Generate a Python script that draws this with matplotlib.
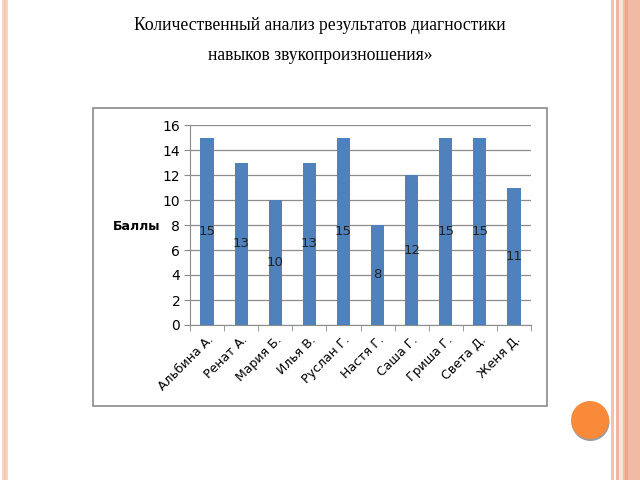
import matplotlib.pyplot as plt
from matplotlib.patches import Rectangle, Circle

# data
names = ['Альбина А.', 'Ренат А.', 'Мария Б.', 'Илья В.', 'Руслан Г.',
         'Настя Г.', 'Саша Г.', 'Гриша Г.', 'Света Д.', 'Женя Д.']
scores = [15, 13, 10, 13, 15, 8, 12, 15, 15, 11]
yticks = [0, 2, 4, 6, 8, 10, 12, 14, 16]

title_1 = 'Количественный анализ результатов диагностики'
title_2 = 'навыков звукопроизношения»'

fig = plt.figure(figsize=(6.4, 4.8), dpi=100)
fig.patch.set_facecolor('white')
W, H = 640.0, 480.0

# slide decoration: stripes at the sides
def stripe(x0, x1, color):
    fig.patches.append(Rectangle((x0 / W, 0), (x1 - x0) / W, 1, transform=fig.transFigure,
                                 facecolor=color, edgecolor='none', zorder=0))

stripe(2, 8, '#fbd3c3')
stripe(4, 6, '#f9c4b0')
stripe(611, 614, '#f6c0aa')
stripe(616, 619, '#f4b59e')
stripe(619, 623, '#fde4da')
stripe(623, 640, '#f2b9a5')
stripe(625, 628, '#f0a78c')

# orange circle with a grey shadow (pixel units via dpi_scale_trans)
shadow = Circle((590.5 / 100, (H - 422) / 100), 19 / 100, transform=fig.dpi_scale_trans,
                facecolor='#9c9c9c', edgecolor='none', zorder=1)
circ = Circle((590 / 100, (H - 420) / 100), 19 / 100, transform=fig.dpi_scale_trans,
              facecolor='#f98a3a', edgecolor='none', zorder=2)
fig.patches.extend([shadow, circ])

# chart frame
fig.patches.append(Rectangle((93 / W, 1 - 406 / H), (547 - 93) / W, (406 - 108) / H,
                             transform=fig.transFigure, facecolor='white',
                             edgecolor='#8a8a8a', linewidth=1.2, zorder=1))

# title
fig.text(0.5, 1 - 25 / H, title_1, ha='center', va='center',
         fontsize=12.7, family='Liberation Serif', color='#000000')
fig.text(0.5, 1 - 56 / H, title_2, ha='center', va='center',
         fontsize=12.7, family='Liberation Serif', color='#000000')

ax = fig.add_axes([190 / W, 1 - 325 / H, (531 - 190) / W, (325 - 125) / H])
ax.set_zorder(3)
ax.patch.set_alpha(0)

x = list(range(len(names)))
ax.bar(x, scores, width=0.39, color='#4f81bd', zorder=3)
for xi, v in zip(x, scores):
    ax.text(xi, v / 2, str(v), ha='center', va='center', fontsize=9.5, color='#222222', zorder=4)

ax.set_xlim(-0.5, len(names) - 0.5)
ax.set_ylim(0, 16)
ax.set_yticks(yticks)
ax.yaxis.grid(True, color='#8c8c8c', linewidth=0.9)
ax.set_axisbelow(True)

ax.set_xticks(x)
ax.set_xticklabels(names, rotation=45, ha='right', rotation_mode='anchor', fontsize=9)
ax.tick_params(axis='x', length=0, pad=6)
ax.set_xticks([i - 0.5 for i in range(len(names) + 1)], minor=True)
ax.tick_params(axis='x', which='minor', length=4, color='#8c8c8c', direction='out')
ax.tick_params(axis='y', length=4, color='#8c8c8c', labelsize=10, pad=3)

for s in ['top', 'right']:
    ax.spines[s].set_visible(False)
ax.spines['left'].set_color('#8c8c8c')
ax.spines['bottom'].set_color('#8c8c8c')

fig.text(113 / W, 1 - 227 / H, 'Баллы', ha='left', va='center', fontsize=9, fontweight='bold')

fig.savefig('out.png', dpi=100)
